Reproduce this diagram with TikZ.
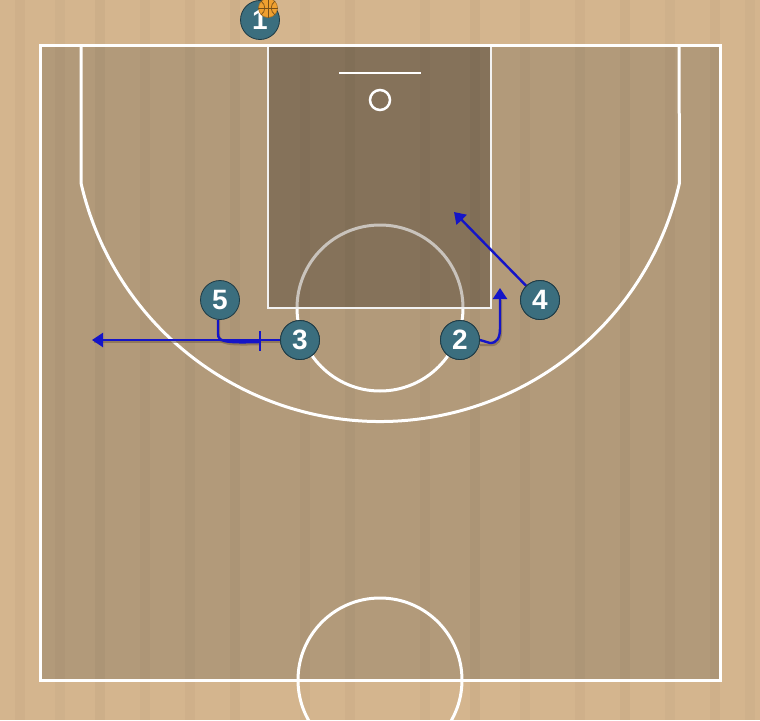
\documentclass[tikz,border=0pt]{standalone}
\usepackage{fontspec}
\setmainfont{Liberation Sans}
\usetikzlibrary{arrows.meta}
\definecolor{woodout}{HTML}{D4B58E}
\definecolor{woodin}{HTML}{B29A7A}
\definecolor{paint}{HTML}{85725A}
\definecolor{player}{HTML}{3B6E7E}
\definecolor{playerline}{HTML}{1E3A44}
\definecolor{move}{HTML}{1414C8}
\definecolor{shadowc}{HTML}{7A6448}
\definecolor{ftgray}{HTML}{C9C3BC}
\definecolor{ballc}{HTML}{F0A030}
\tikzset{
  courtline/.style={draw=white,line width=3pt},
  playernode/.style={circle,fill=player,draw=playerline,line width=0.8pt,minimum size=39pt,inner sep=0pt,text=white,font=\fontsize{28}{28}\selectfont\bfseries},
  mv/.style={draw=move,line width=2.4pt},
  mvshadow/.style={draw=shadowc,line width=2.4pt,opacity=0.6},
  tip/.style={-{Triangle[length=11pt,width=14pt]}},
}
\begin{document}
\begin{tikzpicture}[x=1pt,y=-1pt]
\useasboundingbox (0,0) rectangle (760,720);
\fill[woodout] (0,0) rectangle (760,720);
\fill[woodin] (40,45) rectangle (720,680);
\fill[paint] (268,45) rectangle (491,308);
% subtle stripes
\foreach \sx/\op in {15/0.025,55/0.02,95/0.03,140/0.02,185/0.025,230/0.03,300/0.02,345/0.025,420/0.02,470/0.03,520/0.02,575/0.025,620/0.03,665/0.02,710/0.025,745/0.02}{
  \fill[black,opacity=\op] (\sx,0) rectangle (\sx+10,720);
}
% free throw circle
\draw[ftgray,line width=3pt] (297,308) arc[start angle=180,end angle=360,radius=83];
\draw[courtline] (297,308) arc[start angle=180,end angle=0,radius=83];
% paint outline
\draw[draw=white!90!gray,line width=2.5pt] (268,45) rectangle (491,308);
% backboard and rim
\draw[white,line width=2pt] (339,73) -- (421,73);
\draw[white,line width=2.5pt] (380,100) circle[radius=10];
% three point line
\draw[courtline] (81,45) -- (81,183) arc[start angle=180-12.9,end angle=12.9,radius=307] -- (679,45);
% court boundary
\draw[courtline] (40,45) rectangle (720,680);
% center circle
\draw[courtline] (380,680) circle[radius=82];
% moves
\coordinate (s5) at (218,319);
\coordinate (bar) at (260,342);
\coordinate (t3) at (92,340);
\coordinate (t2) at (500,288);
\coordinate (t4) at (454,212);
% shadows
\draw[mvshadow] (281,342) -- (94,342);
\draw[mvshadow] (219,320) -- (219,336) .. controls (219,344) and (228,345) .. (261,344);
\draw[mvshadow] (480,345) -- (491,345) .. controls (498,345) and (501,340) .. (501,330) -- (501,300);
\node[playernode] (p5) at (220,300) {5};
\node[playernode] (p3) at (300,340) {3};
\node[playernode] (p2) at (460,340) {2};
\node[playernode] (p4) at (540,300) {4};
\draw[mv,tip] (p3.west) -- (t3);
\draw[mv] (p5.south -| s5) -- (218,334) .. controls (218,342) and (226,343) .. (bar);
\draw[move,line width=2.2pt] (260,331) -- (260,351);
\draw[mv,tip] (p2.east) -- (490,343) .. controls (497,343) and (500,338) .. (500,328) -- (t2);
\draw[mv,tip] (p4) -- (t4);
\node[playernode] at (300,340) {3};
\node[playernode] at (540,300) {4};
\node[playernode] at (460,340) {2};
% player 1 with ball
\node[playernode] (p1) at (260,20) {1};
\node[circle,fill=ballc,draw=ballc!70!black,line width=0.6pt,minimum size=19pt,inner sep=0pt] (ball) at (268,8) {};
\draw[ballc!50!black,line width=0.7pt] (ball.north) -- (ball.south) (ball.west) -- (ball.east);
\draw[ballc!50!black,line width=0.7pt] (261,1) .. controls (266,5) and (266,11) .. (261,15);
\draw[ballc!50!black,line width=0.7pt] (275,1) .. controls (270,5) and (270,11) .. (275,15);
\end{tikzpicture}
\end{document}
